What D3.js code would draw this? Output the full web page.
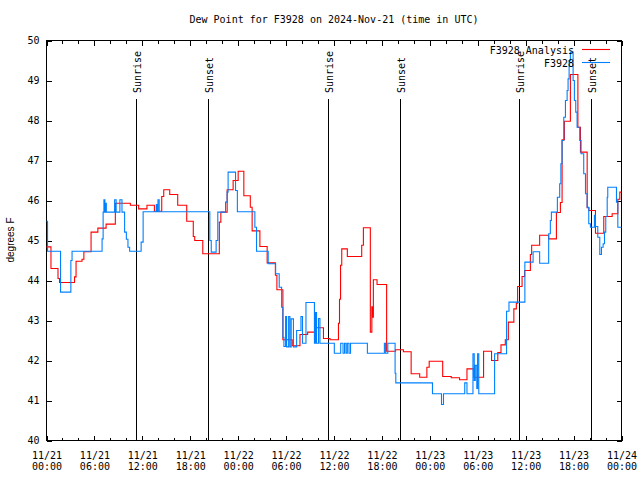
<!DOCTYPE html>
<html><head><meta charset="utf-8">
<script src="https://cdn.jsdelivr.net/npm/d3@7"></script>
<style>body{margin:0;background:#fff}</style>
</head><body>
<svg id="c" width="640" height="480"></svg>
<script>
const titleText = "Dew Point for F3928 on 2024-Nov-21 (time in UTC)";
const yLabelText = "degrees F";
const seriesNames = ["F3928 Analysis", "F3928"];
const seriesColors = ["#ff0000", "#0080ff"];
const startTime = "2024-11-21T00:00:00Z";
const endTime = "2024-11-24T00:00:00Z";
const yTickValues = [40, 41, 42, 43, 44, 45, 46, 47, 48, 49, 50];

// hours since 2024-11-21 00:00 UTC
const analysisHours = [0,0.56,1.44,1.63,3.51,3.70,4.45,4.68,5.58,6.43,7.46,8.62,10.50,11.54,12.58,13.51,14.43,14.68,15.43,16.43,17.56,18.38,18.56,19.57,21.64,21.83,22.62,23.37,24.00,24.71,25.52,25.75,26.72,27.63,28.66,28.85,29.60,30.77,31.74,32.70,33.74,34.68,35.50,36.56,36.69,36.82,36.97,37.67,39.47,39.68,40.55,40.74,40.83,40.93,41.39,42.59,43.71,44.69,45.66,46.73,47.63,47.92,49.61,50.68,51.72,52.65,53.50,54.73,55.73,56.51,56.91,57.45,57.83,58.52,58.83,58.99,59.55,59.87,60.59,60.75,61.75,62.88,63.85,64.35,64.56,64.85,65.60,66.54,66.86,67.70,67.92,68.74,69.78,70.83,71.54,71.79,72];
const analysisValues = [44.84,44.30,44.05,43.95,44.09,44.48,44.53,44.72,45.21,45.31,45.41,45.93,45.88,45.79,45.88,45.73,46.10,46.27,46.15,45.88,45.48,45.10,45.00,44.67,45.46,45.71,46.27,46.50,46.73,46.12,45.83,45.24,44.85,44.44,44.13,43.77,42.52,42.37,42.65,42.71,42.82,42.55,42.52,42.93,43.53,44.38,44.79,44.60,44.88,45.32,42.71,43.34,43.08,44.02,43.90,42.23,42.27,42.22,41.67,41.58,41.83,41.98,41.60,41.57,41.52,41.79,41.58,42.23,42.00,42.20,42.39,42.52,42.96,43.29,43.43,43.85,44.10,44.25,44.65,44.88,45.13,45.04,45.70,45.95,47.52,47.98,49.15,47.83,47.21,45.82,45.75,45.18,45.60,45.67,46.03,46.21,46.21];

const obsHours = [0,0.13,1.76,3.05,3.20,6.96,7.09,7.19,7.31,7.40,7.49,8.53,8.72,9.19,9.45,9.78,10.00,10.20,10.41,11.85,12.10,13.75,13.85,13.96,14.11,20.45,20.63,21.24,21.45,22.42,22.62,22.74,23.67,23.90,26.09,26.30,27.76,28.69,29.14,29.44,29.60,29.73,29.94,30.07,30.32,30.48,30.64,30.92,31.32,31.86,32.05,32.49,33.55,33.68,33.81,34.06,34.24,36.04,36.84,37.13,37.32,37.51,37.67,37.88,38.07,40.18,42.31,42.46,42.74,43.65,43.74,48.33,49.46,49.71,52.37,52.65,53.40,53.56,53.69,53.88,53.98,54.13,56.11,57.61,57.91,59.90,60.93,61.75,62.88,63.09,63.22,63.97,64.26,64.41,64.56,64.77,64.98,65.19,65.31,65.44,65.60,65.94,66.10,66.27,66.44,66.77,66.94,67.27,67.49,67.70,67.90,68.11,68.61,68.74,69.03,69.28,69.49,69.70,69.87,70.03,70.21,70.28,71.37,71.54,72];
const obsValues = [45.48,44.73,43.71,44.50,44.73,45.04,45.71,46.02,45.71,45.93,45.71,46.02,45.71,46.02,45.71,45.21,45.03,44.83,44.73,44.96,45.72,45.90,45.72,46.02,45.72,45.00,44.71,45.00,45.71,45.96,46.21,46.71,46.25,45.72,45.33,44.73,44.42,44.17,43.83,43.33,42.58,42.35,43.10,42.34,43.10,42.34,43.04,42.34,42.75,43.10,42.43,43.45,42.43,43.20,42.43,43.05,42.43,42.18,42.43,42.18,42.43,42.18,42.43,42.18,42.43,42.18,42.43,42.18,42.43,41.68,41.44,41.17,40.90,41.17,41.44,41.17,42.17,41.50,41.88,41.30,42.17,41.17,42.17,43.23,43.46,44.46,44.72,44.43,45.17,45.50,45.71,46.08,46.42,46.92,47.50,48.08,48.50,48.75,49.04,49.50,49.71,49.00,48.50,48.21,47.83,47.50,47.17,46.67,46.17,45.83,45.42,45.33,45.63,45.35,45.08,44.65,44.83,44.92,45.21,45.60,46.08,46.33,45.96,45.33,45.33];

const eventNames = ["Sunrise", "Sunset", "Sunrise", "Sunset", "Sunrise", "Sunset"];
const eventHours = [11.27, 20.28, 35.26, 44.27, 59.25, 68.26];

const mono = "'DejaVu Sans Mono', 'Liberation Mono', monospace";
const sans = "'Liberation Sans', Arial, sans-serif";

const svg = d3.select("#c");
const t0 = new Date(startTime), t1 = new Date(endTime);
const toDate = h => new Date(t0.getTime() + h * 3600000);
const x = d3.scaleUtc().domain([t0, t1]).range([46.5, 621.5]);
const y = d3.scaleLinear().domain([40, 50]).range([440.5, 40.5]);

svg.append("rect").attr("width", 640).attr("height", 480).attr("fill", "#fff");

// minor x ticks (every 2h), bottom and top
const minorX = d3.utcHour.every(2).range(t0, t1).filter(d => d.getUTCHours() % 6 !== 0);
svg.append("g").attr("transform", "translate(0,440.5)")
  .call(d3.axisBottom(x).tickValues(minorX).tickSize(-3).tickFormat(""))
  .call(g => g.select(".domain").remove());
svg.append("g").attr("transform", "translate(0,40.5)")
  .call(d3.axisTop(x).tickValues(minorX).tickSize(-3).tickFormat(""))
  .call(g => g.select(".domain").remove());

// major x ticks
const fmtDay = d3.utcFormat("%m/%d"), fmtHour = d3.utcFormat("%H:%M");
const majorX = d3.utcHour.every(6).range(t0, new Date(t1.getTime() + 1));
const xb = svg.append("g").attr("transform", "translate(0,440.5)")
  .call(d3.axisBottom(x).tickValues(majorX).tickSize(-5).tickPadding(0).tickFormat(""));
xb.select(".domain").remove();
xb.selectAll(".tick").append("text")
  .attr("fill", "#000").attr("text-anchor", "middle")
  .style("font-family", mono).style("font-size", "10px")
  .each(function(d) {
    const t = d3.select(this);
    t.append("tspan").attr("x", 0).attr("y", 18).text(fmtDay(d));
    t.append("tspan").attr("x", 0).attr("y", 29.5).text(fmtHour(d));
  });
svg.append("g").attr("transform", "translate(0,40.5)")
  .call(d3.axisTop(x).tickValues(majorX).tickSize(-5).tickFormat(""))
  .call(g => g.select(".domain").remove());

// y axis
const yl = svg.append("g").attr("transform", "translate(46.5,0)")
  .call(d3.axisLeft(y).tickValues(yTickValues).tickSize(-5).tickPadding(7).tickFormat(d3.format("d")));
yl.select(".domain").remove();
yl.selectAll("text").style("font-family", mono).style("font-size", "10px").attr("fill", "#000");
svg.append("g").attr("transform", "translate(621.5,0)")
  .call(d3.axisRight(y).tickValues(yTickValues).tickSize(-5).tickFormat(""))
  .call(g => g.select(".domain").remove());

svg.selectAll(".tick line").attr("stroke", "#000").attr("shape-rendering", "crispEdges");

// border
svg.append("rect").attr("x", 46.5).attr("y", 40.5).attr("width", 575).attr("height", 400)
  .attr("fill", "none").attr("stroke", "#000").attr("shape-rendering", "crispEdges");

// sunrise / sunset markers
const ev = svg.append("g");
eventHours.forEach((h, i) => {
  const xx = Math.round(x(toDate(h)) - 0.5) + 0.5;
  ev.append("line").attr("x1", xx).attr("x2", xx).attr("y1", 99).attr("y2", 440)
    .attr("stroke", "#000").attr("shape-rendering", "crispEdges");
  ev.append("text").attr("transform", `translate(${xx + 4},93) rotate(-90)`)
    .attr("text-anchor", "start").style("font-family", mono).style("font-size", "10px")
    .text(eventNames[i]);
});

// data lines
const line = d3.line().x(d => x(toDate(d[0]))).y(d => y(d[1])).curve(d3.curveStepAfter);
const series = [
  d3.zip(analysisHours, analysisValues),
  d3.zip(obsHours, obsValues)
];
series.forEach((s, i) => {
  svg.append("path").datum(s).attr("d", line).attr("fill", "none")
    .attr("stroke", seriesColors[i]).attr("stroke-width", 1.1);
});

// legend
seriesNames.forEach((n, i) => {
  const yy = 49.5 + i * 13;
  svg.append("text").attr("x", 574).attr("y", yy + 4).attr("text-anchor", "end")
    .style("font-family", mono).style("font-size", "10px").text(n);
  svg.append("line").attr("x1", 582).attr("x2", 610).attr("y1", yy).attr("y2", yy)
    .attr("stroke", seriesColors[i]).attr("stroke-width", 1.1);
});

// title and y label
svg.append("text").attr("x", 334).attr("y", 23).attr("text-anchor", "middle")
  .style("font-family", mono).style("font-size", "10px").text(titleText);
svg.append("text").attr("transform", "translate(14,240) rotate(-90)").attr("text-anchor", "middle")
  .style("font-family", sans).style("font-size", "10px").text(yLabelText);
</script>
</body></html>
